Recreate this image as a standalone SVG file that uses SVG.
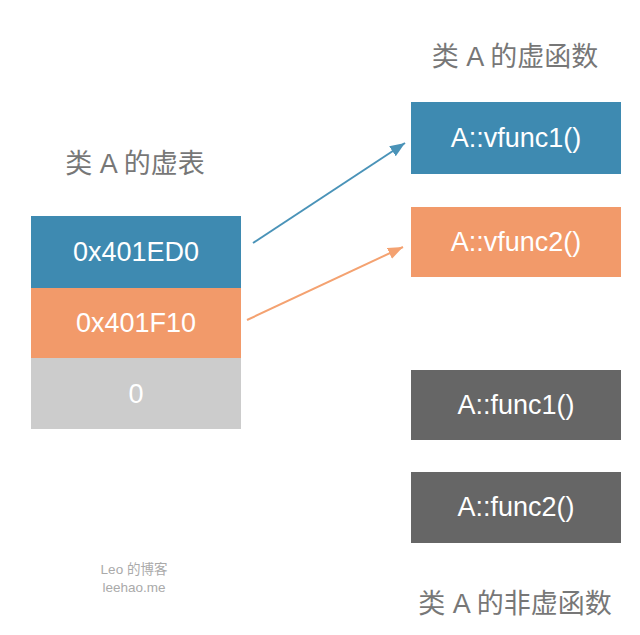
<svg xmlns="http://www.w3.org/2000/svg" width="640" height="635" viewBox="0 0 640 635">
<style>
text{font-family:"Liberation Sans","Noto Sans CJK SC",sans-serif;text-anchor:middle}
.title{font-size:27px;fill:#777777}
.lbl{font-size:27px;fill:#ffffff}
.wm{font-size:13.5px;fill:#aaaaaa}
.blue{fill:#3e8ab1}
.orange{fill:#f29a6a}
.light{fill:#cccccc}
.dark{fill:#666666}
</style>
<defs>
<marker id="ab" markerWidth="16" markerHeight="12" refX="15" refY="6" orient="auto" markerUnits="userSpaceOnUse"><path d="M0,0 L15,6 L0,12 Z" fill="#4a93b8"/></marker>
<marker id="ao" markerWidth="16" markerHeight="12" refX="15" refY="6" orient="auto" markerUnits="userSpaceOnUse"><path d="M0,0 L15,6 L0,12 Z" fill="#f4a271"/></marker>
</defs>
<rect width="640" height="635" fill="#ffffff"/>
<text class="title" x="135" y="173">类 A 的虚表</text>
<text class="title" x="515" y="66">类 A 的虚函数</text>
<text class="title" x="515" y="613">类 A 的非虚函数</text>
<g id="vtable-0">
<rect class="blue" x="31" y="216" width="210" height="72"/>
<text class="lbl" x="136" y="261">0x401ED0</text>
</g>
<g id="vtable-1">
<rect class="orange" x="31" y="288" width="210" height="70"/>
<text class="lbl" x="136" y="332">0x401F10</text>
</g>
<g id="vtable-2">
<rect class="light" x="31" y="358" width="210" height="71"/>
<text class="lbl" x="136" y="403">0</text>
</g>
<g id="vfunc1">
<rect class="blue" x="411" y="102" width="210" height="72"/>
<text class="lbl" x="516" y="147">A::vfunc1()</text>
</g>
<g id="vfunc2">
<rect class="orange" x="411" y="207" width="210" height="70"/>
<text class="lbl" x="516" y="251">A::vfunc2()</text>
</g>
<g id="func1">
<rect class="dark" x="411" y="370" width="210" height="70"/>
<text class="lbl" x="516" y="414">A::func1()</text>
</g>
<g id="func2">
<rect class="dark" x="411" y="472" width="210" height="71"/>
<text class="lbl" x="516" y="516">A::func2()</text>
</g>
<g id="connectors">
<line x1="253" y1="243" x2="405" y2="143" stroke="#4a93b8" stroke-width="2" marker-end="url(#ab)"/>
<line x1="247" y1="320" x2="403" y2="247" stroke="#f4a271" stroke-width="2" marker-end="url(#ao)"/>
</g>
<text class="wm" x="134" y="574">Leo 的博客</text>
<text class="wm" x="134" y="592">leehao.me</text>
</svg>
